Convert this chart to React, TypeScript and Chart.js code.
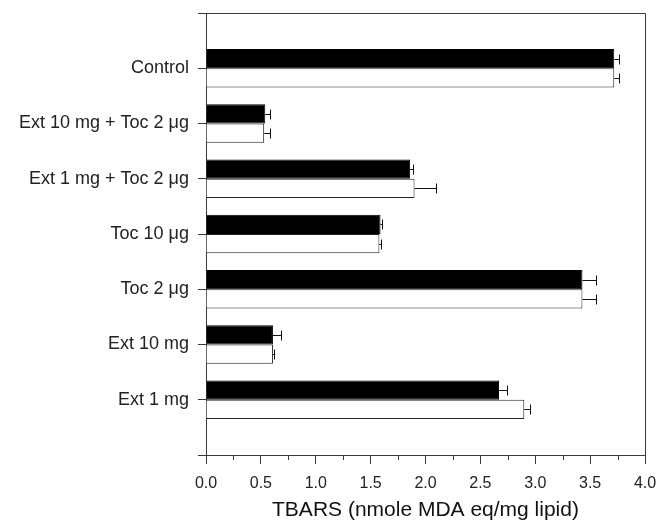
import { useEffect, useRef } from 'react';
import { Chart, registerables } from 'chart.js';

Chart.register(...registerables);

const categories = [
  'Control',
  'Ext 10 mg + Toc 2 μg',
  'Ext 1 mg + Toc 2 μg',
  'Toc 10 μg',
  'Toc 2 μg',
  'Ext 10 mg',
  'Ext 1 mg',
];
const blackValues = [3.72, 0.54, 1.86, 1.59, 3.43, 0.61, 2.67];
const blackErrors = [0.04, 0.04, 0.03, 0.01, 0.12, 0.07, 0.07];
const whiteValues = [3.72, 0.53, 1.90, 1.58, 3.43, 0.61, 2.90];
const whiteErrors = [0.04, 0.05, 0.20, 0.01, 0.12, 0.01, 0.05];
const xTickValues = [0, 0.5, 1, 1.5, 2, 2.5, 3, 3.5, 4];
const xTitle = 'TBARS (nmole MDA eq/mg lipid)';

const FONT = '"Liberation Sans", Arial, Helvetica, sans-serif';
const LINE = '#3a3a3a';

export default function App() {
  const ref = useRef<HTMLCanvasElement | null>(null);

  useEffect(() => {
    if (!ref.current) return;
    const labels = ['', ...categories, ''];
    const pad = (a: number[]) => [null, ...a, null];
    const errs = [blackErrors, whiteErrors];

    const errorBars = {
      id: 'errorBars',
      afterDatasetsDraw(chart: any) {
        const ctx = chart.ctx;
        const xs = chart.scales.x;
        ctx.save();
        ctx.strokeStyle = '#111';
        ctx.lineWidth = 1;
        chart.data.datasets.forEach((ds: any, i: number) => {
          const meta = chart.getDatasetMeta(i);
          meta.data.forEach((el: any, j: number) => {
            const v = ds.data[j];
            if (v == null) return;
            const e = errs[i][j - 1];
            const x0 = xs.getPixelForValue(v);
            const x1 = xs.getPixelForValue(v + e);
            const y = Math.round(el.y) + 0.5;
            const xe = Math.round(x1) + 0.5;
            ctx.beginPath();
            ctx.moveTo(x0, y);
            ctx.lineTo(xe, y);
            ctx.moveTo(xe, y - 5);
            ctx.lineTo(xe, y + 5);
            ctx.stroke();
          });
        });
        ctx.restore();
      },
    };

    const frame = {
      id: 'frame',
      afterDraw(chart: any) {
        const ctx = chart.ctx;
        const { left, right, top, bottom } = chart.chartArea;
        const xs = chart.scales.x;
        ctx.save();
        ctx.strokeStyle = LINE;
        ctx.lineWidth = 1;
        ctx.beginPath();
        const t = Math.round(top) + 0.5;
        const r = Math.round(right) + 0.5;
        ctx.moveTo(left, t);
        ctx.lineTo(r, t);
        ctx.lineTo(r, bottom);
        ctx.stroke();
        // minor ticks
        ctx.beginPath();
        for (let k = 0; k < xTickValues.length - 1; k++) {
          const v = (xTickValues[k] + xTickValues[k + 1]) / 2;
          const px = Math.round(xs.getPixelForValue(v)) + 0.5;
          ctx.moveTo(px, bottom);
          ctx.lineTo(px, bottom + 5);
        }
        ctx.stroke();
        ctx.restore();
      },
    };

    const chart = new Chart(ref.current, {
      type: 'bar',
      data: {
        labels,
        datasets: [
          {
            label: 'A',
            data: pad(blackValues) as any,
            backgroundColor: '#000',
            borderColor: '#000',
            borderWidth: 1,
            categoryPercentage: 0.7,
            barPercentage: 1.0,
          },
          {
            label: 'B',
            data: pad(whiteValues) as any,
            backgroundColor: '#fff',
            borderColor: '#222',
            borderWidth: 1,
            categoryPercentage: 0.7,
            barPercentage: 1.0,
          },
        ],
      },
      options: {
        indexAxis: 'y',
        animation: false,
        responsive: true,
        maintainAspectRatio: false,
        layout: { padding: { top: 13, right: 14, left: 0, bottom: 0 } },
        plugins: { legend: { display: false }, tooltip: { enabled: false } },
        scales: {
          x: {
            type: 'linear',
            min: 0,
            max: 4,
            afterBuildTicks: (s: any) => {
              s.ticks = xTickValues.map((v) => ({ value: v }));
            },
            ticks: {
              callback: (v: any) => Number(v).toFixed(1),
              font: { size: 16, family: FONT },
              color: '#222',
              padding: 10,
              maxRotation: 0,
              autoSkip: false,
            },
            grid: { drawOnChartArea: false, tickLength: 9, color: LINE },
            border: { color: LINE },
            title: {
              display: true,
              text: xTitle,
              font: { size: 21, family: FONT },
              color: '#111',
              padding: { top: 0, bottom: 0 },
            },
            afterFit: (s: any) => {
              s.height = 68;
              s.paddingLeft = 0;
              s.paddingRight = 0;
            },
          },
          y: {
            type: 'category',
            offset: false,
            ticks: {
              autoSkip: false,
              font: { size: 18, family: FONT },
              color: '#222',
              padding: 9,
            },
            grid: { drawOnChartArea: false, tickLength: 8, color: LINE, offset: false },
            border: { color: LINE },
            afterFit: (s: any) => {
              s.width = 206;
              s.paddingTop = 0;
              s.paddingBottom = 0;
            },
          },
        },
      } as any,
      plugins: [errorBars, frame],
    });
    return () => chart.destroy();
  }, []);

  return (
    <div style={{ position: 'fixed', left: 0, top: 0, width: 659, height: 523, background: '#fff' }}>
      <canvas ref={ref} style={{ display: 'block' }} />
    </div>
  );
}
